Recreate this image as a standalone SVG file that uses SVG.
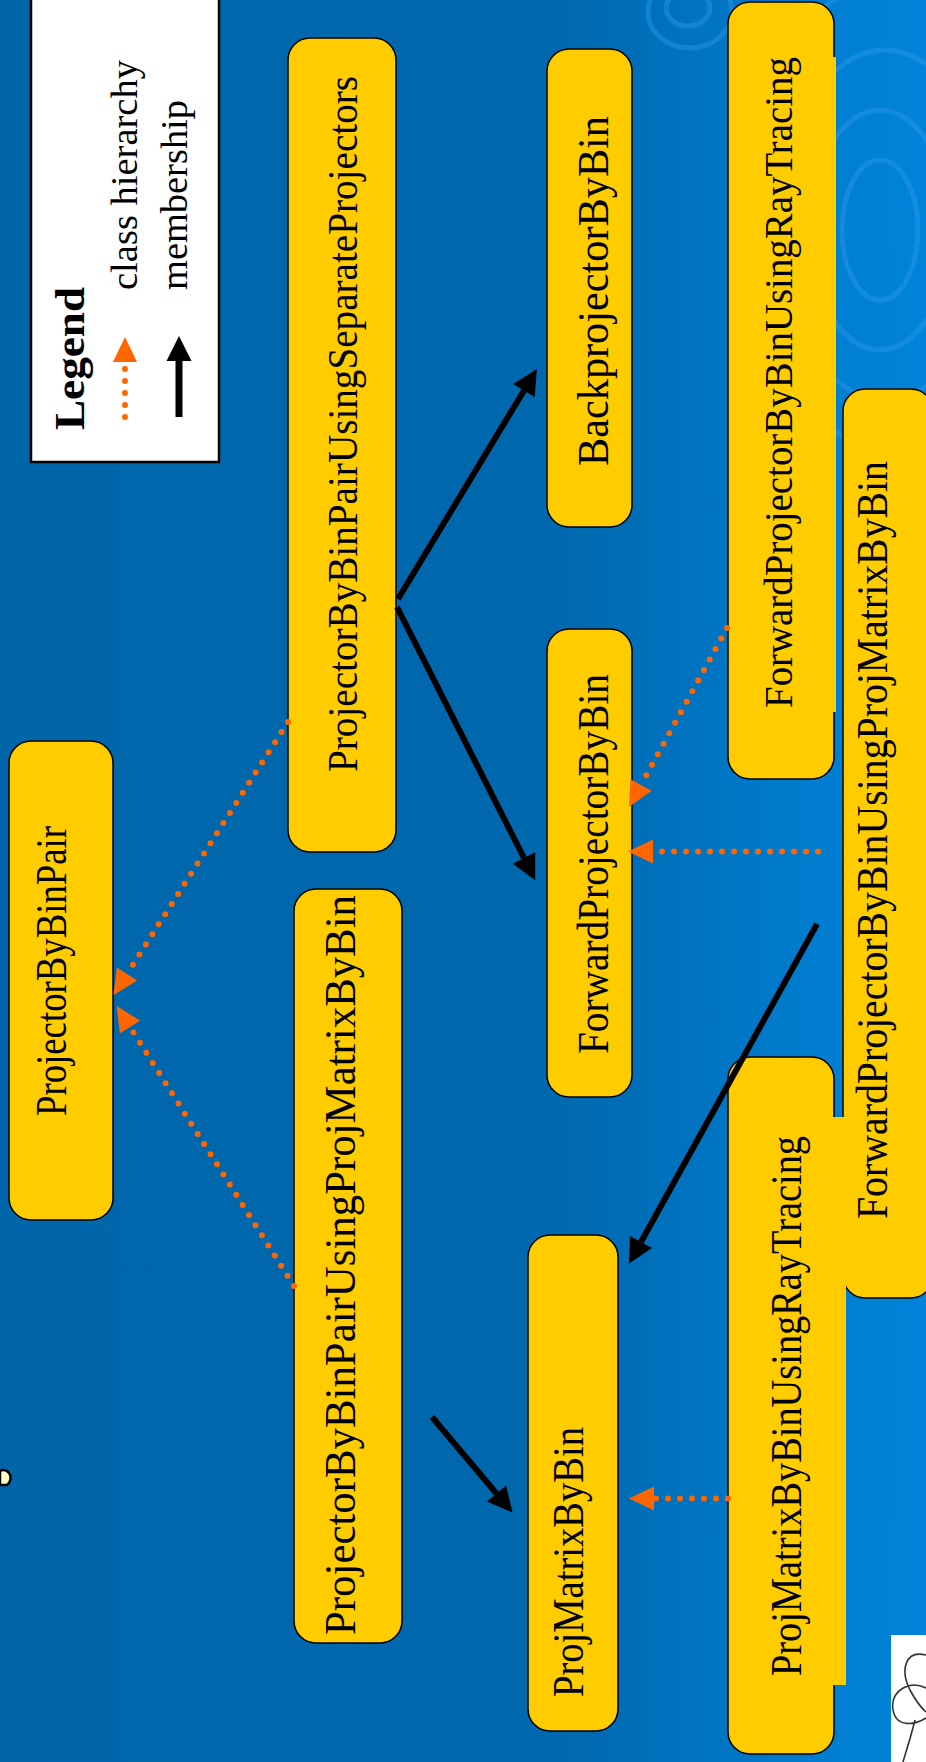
<svg xmlns="http://www.w3.org/2000/svg" width="926" height="1762" viewBox="0 0 926 1762">
<defs>
<linearGradient id="bg" x1="0" y1="0" x2="926" y2="0" gradientUnits="userSpaceOnUse">
<stop offset="0" stop-color="#0066aa"/>
<stop offset="0.6" stop-color="#0068ae"/>
<stop offset="0.92" stop-color="#0080d4"/>
<stop offset="1" stop-color="#0083d9"/>
</linearGradient>
<marker id="ho" markerUnits="userSpaceOnUse" markerWidth="26" markerHeight="26" refX="0" refY="12" orient="auto" overflow="visible">
<path d="M0,0 L25,12 L0,24 Z" fill="#ff6600"/>
</marker>
<marker id="hb" markerUnits="userSpaceOnUse" markerWidth="26" markerHeight="26" refX="0" refY="12.5" orient="auto" overflow="visible">
<path d="M0,0 L25,12.5 L0,25 Z" fill="#000"/>
</marker>
<style>
.box{fill:#ffcc00;stroke:#000;stroke-width:1.5}
.patch{fill:#ffcc00;stroke:none}
.t{font-family:"Liberation Serif","Times New Roman",serif;font-size:44px;fill:#000}
.lg{font-family:"Liberation Serif","Times New Roman",serif;font-size:38px;fill:#000}
.dot{fill:none;stroke:#ff6600;stroke-width:6;stroke-linecap:round;stroke-dasharray:0 12}
.mem{fill:none;stroke:#000;stroke-width:6}
.sw{fill:none;stroke:#2a98ea;stroke-width:5;opacity:0.45}
</style>
</defs>
<rect x="0" y="0" width="926" height="1762" fill="url(#bg)"/>
<g id="decor">
<ellipse class="sw" cx="688" cy="8" rx="22" ry="18"/>
<ellipse class="sw" cx="690" cy="12" rx="42" ry="36"/>
<ellipse class="sw" cx="880" cy="230" rx="38" ry="70"/>
<ellipse class="sw" cx="880" cy="230" rx="70" ry="120"/>
<ellipse class="sw" cx="885" cy="225" rx="105" ry="175"/>
<ellipse class="sw" cx="890" cy="215" rx="140" ry="235"/>
<path d="M0,1485 L0,1471 A7,8 0 0 1 7,1485 Z" fill="#ffffcc" stroke="#000" stroke-width="2.5"/>
</g>
<g id="legend">
<rect x="31" y="-5" width="188" height="467" fill="#fff" stroke="#000" stroke-width="2.5"/>
<text class="t" transform="translate(84,430) rotate(-90)" style="font-weight:bold;font-size:42px" textLength="143" lengthAdjust="spacingAndGlyphs">Legend</text>
<text class="lg" transform="translate(137,290) rotate(-90)" textLength="230" lengthAdjust="spacingAndGlyphs">class hierarchy</text>
<text class="lg" transform="translate(187,290) rotate(-90)" textLength="190" lengthAdjust="spacingAndGlyphs">membership</text>
<path class="dot" d="M125,417 L125,362" marker-end="url(#ho)"/>
<path class="mem" d="M179,417 L179,361" marker-end="url(#hb)" style="stroke-width:7"/>
</g>
<g id="n-ProjectorByBinPair">
<rect class="box" x="9" y="741" width="104" height="479" rx="22"/>
<text class="t" transform="translate(66,1116) rotate(-90)" textLength="290" lengthAdjust="spacingAndGlyphs">ProjectorByBinPair</text>
</g>
<g id="n-ProjectorByBinPairUsingSeparateProjectors">
<rect class="box" x="288" y="38" width="108" height="814" rx="22"/>
<text class="t" transform="translate(357,772) rotate(-90)" style="font-size:42px" textLength="696" lengthAdjust="spacingAndGlyphs">ProjectorByBinPairUsingSeparateProjectors</text>
</g>
<g id="n-ProjectorByBinPairUsingProjMatrixByBin">
<rect class="box" x="294" y="889" width="108" height="754" rx="22"/>
<text class="t" transform="translate(355,1635) rotate(-90)" textLength="740" lengthAdjust="spacingAndGlyphs">ProjectorByBinPairUsingProjMatrixByBin</text>
</g>
<g id="n-BackprojectorByBin">
<rect class="box" x="547" y="49" width="85" height="478" rx="22"/>
<text class="t" transform="translate(608,466) rotate(-90)" textLength="350" lengthAdjust="spacingAndGlyphs">BackprojectorByBin</text>
</g>
<g id="n-ForwardProjectorByBin">
<rect class="box" x="547" y="629" width="85" height="468" rx="22"/>
<text class="t" transform="translate(608,1054) rotate(-90)" textLength="380" lengthAdjust="spacingAndGlyphs">ForwardProjectorByBin</text>
</g>
<g id="n-ProjMatrixByBin">
<rect class="box" x="528" y="1235" width="90" height="496" rx="22"/>
<text class="t" transform="translate(583,1697) rotate(-90)" textLength="270" lengthAdjust="spacingAndGlyphs">ProjMatrixByBin</text>
</g>
<g id="n-ForwardProjectorByBinUsingRayTracing">
<rect class="box" x="728" y="2" width="106" height="777" rx="22"/>
<rect class="patch" x="820" y="57" width="16" height="655"/>
<text class="t" transform="translate(792,708) rotate(-90)" style="font-size:41px" textLength="651" lengthAdjust="spacingAndGlyphs">ForwardProjectorByBinUsingRayTracing</text>
</g>
<g id="n-ForwardProjectorByBinUsingProjMatrixByBin">
<rect class="box" x="843" y="389" width="90" height="909" rx="22"/>
<text class="t" transform="translate(887,1219) rotate(-90)" textLength="758" lengthAdjust="spacingAndGlyphs">ForwardProjectorByBinUsingProjMatrixByBin</text>
</g>
<g id="n-ProjMatrixByBinUsingRayTracing">
<rect class="box" x="728" y="1057" width="106" height="697" rx="22"/>
<rect class="patch" x="820" y="1117" width="26" height="568"/>
<text class="t" transform="translate(801,1676) rotate(-90)" textLength="540" lengthAdjust="spacingAndGlyphs">ProjMatrixByBinUsingRayTracing</text>
</g>
<g id="connectors">
<path class="dot" d="M288,722 L127,974" marker-end="url(#ho)"/>
<path class="dot" d="M294,1286 L130,1027" marker-end="url(#ho)"/>
<path class="dot" d="M727,628 L641,785" marker-end="url(#ho)"/>
<path class="dot" d="M818,851.5 L653,851.5" marker-end="url(#ho)"/>
<path class="dot" d="M728,1498.5 L654,1498.5" marker-end="url(#ho)"/>
<path class="mem" d="M398,599 L524,390.5" marker-end="url(#hb)"/>
<path class="mem" d="M397,607 L524,858" marker-end="url(#hb)"/>
<path class="mem" d="M817,924 L641,1242" marker-end="url(#hb)"/>
<path class="mem" d="M432,1417 L496.5,1493.5" marker-end="url(#hb)"/>
</g>
<g id="logo">
<rect x="891" y="1635" width="40" height="130" fill="#fff"/>
<path d="M926,1655 C905,1650 900,1670 910,1690 C918,1705 926,1712 926,1712 M926,1688 C910,1680 890,1690 893,1710 C896,1728 915,1725 926,1718 M915,1720 C910,1740 905,1755 903,1762" fill="none" stroke="#333" stroke-width="1.6"/>
</g>
</svg>
